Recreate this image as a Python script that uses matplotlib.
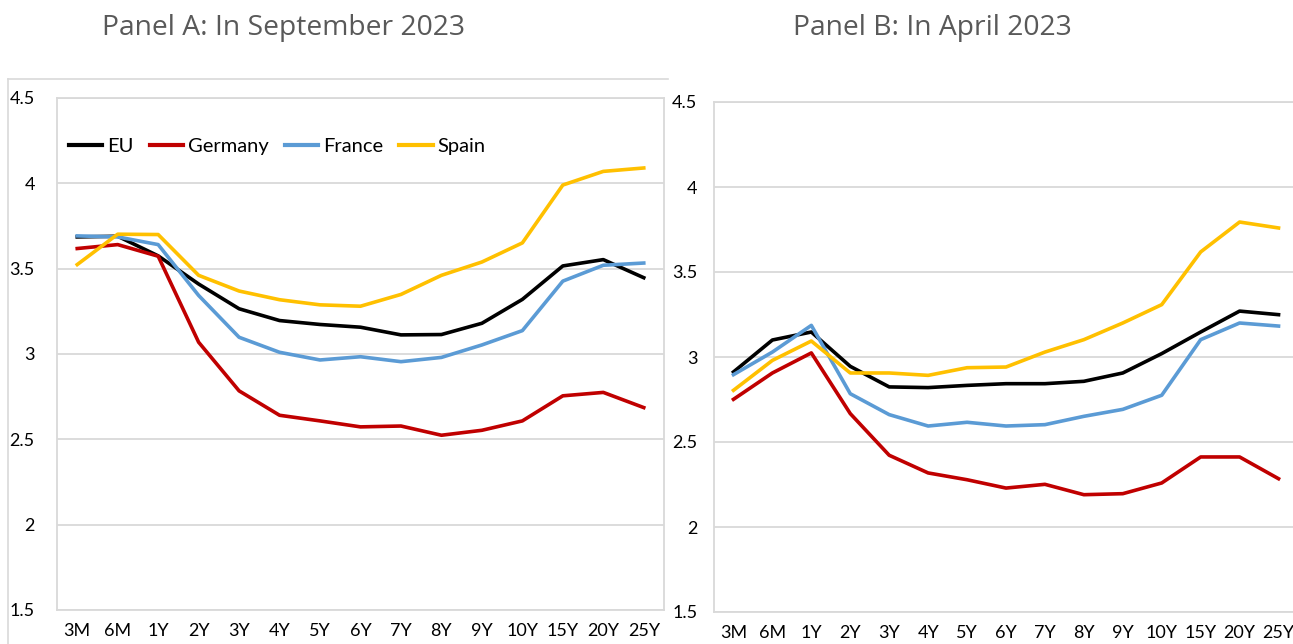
import matplotlib
matplotlib.use("Agg")
import matplotlib.pyplot as plt
from matplotlib.lines import Line2D

tenors = ["3M", "6M", "1Y", "2Y", "3Y", "4Y", "5Y", "6Y", "7Y", "8Y", "9Y", "10Y", "15Y", "20Y", "25Y"]

# Panel A: September 2023
eu_sep = [3.686, 3.69, 3.575, 3.41, 3.265, 3.196, 3.173, 3.157, 3.112, 3.114, 3.18, 3.32, 3.516, 3.553, 3.447]
de_sep = [3.618, 3.641, 3.573, 3.069, 2.784, 2.641, 2.608, 2.573, 2.578, 2.524, 2.553, 2.608, 2.755, 2.775, 2.686]
fr_sep = [3.692, 3.686, 3.641, 3.343, 3.098, 3.01, 2.965, 2.984, 2.955, 2.98, 3.053, 3.137, 3.427, 3.52, 3.533]
es_sep = [3.524, 3.702, 3.70, 3.461, 3.369, 3.318, 3.288, 3.28, 3.349, 3.461, 3.539, 3.651, 3.99, 4.07, 4.09]

# Panel B: April 2023
eu_apr = [2.912, 3.10, 3.147, 2.945, 2.824, 2.82, 2.833, 2.843, 2.843, 2.857, 2.906, 3.02, 3.147, 3.27, 3.249]
de_apr = [2.751, 2.906, 3.024, 2.667, 2.422, 2.318, 2.278, 2.229, 2.251, 2.19, 2.196, 2.259, 2.412, 2.412, 2.284]
fr_apr = [2.896, 3.029, 3.186, 2.784, 2.661, 2.594, 2.616, 2.594, 2.602, 2.651, 2.692, 2.775, 3.102, 3.20, 3.182]
es_apr = [2.804, 2.98, 3.094, 2.906, 2.906, 2.892, 2.937, 2.941, 3.029, 3.102, 3.20, 3.308, 3.618, 3.794, 3.759]

series_names = ["EU", "Germany", "France", "Spain"]
colors = ["#000000", "#C00000", "#5B9BD5", "#FFC000"]
yticks = [1.5, 2, 2.5, 3, 3.5, 4, 4.5]
ytick_labels = ["1.5", "2", "2.5", "3", "3.5", "4", "4.5"]
titles = ["Panel A: In September 2023", "Panel B: In April 2023"]

W, H = 1293, 644
fig = plt.figure(figsize=(W / 100, H / 100), dpi=100)
tick_font = ["Lato", "DejaVu Sans"]
title_font = ["Open Sans", "DejaVu Sans"]

def px_axes(l, t, r, b):
    return fig.add_axes([l / W, 1 - b / H, (r - l) / W, (b - t) / H])

ax1 = px_axes(57, 98, 664, 610)
ax2 = px_axes(714, 102, 1298, 612)

grid_c = "#D9D9D9"
for ax, data, ypad in [(ax1, [eu_sep, de_sep, fr_sep, es_sep], 16),
                       (ax2, [eu_apr, de_apr, fr_apr, es_apr], 12)]:
    x = list(range(len(tenors)))
    for vals, name, c in zip(data, series_names, colors):
        ax.plot(x, vals, color=c, lw=2.6, label=name, solid_joinstyle="round")
    ax.set_xlim(-0.5, len(tenors) - 0.5)
    ax.set_ylim(1.5, 4.5)
    ax.set_yticks(yticks)
    ax.set_yticklabels(ytick_labels, family=tick_font, fontsize=13)
    ax.set_xticks(x)
    ax.set_xticklabels(tenors, family=tick_font, fontsize=13)
    ax.tick_params(axis="both", length=0)
    ax.tick_params(axis="y", pad=ypad)
    ax.tick_params(axis="x", pad=9)
    ax.grid(axis="y", color=grid_c, lw=1.3)
    ax.set_axisbelow(True)
    for s in ax.spines.values():
        s.set_color(grid_c)
        s.set_linewidth(1.3)

leg = ax1.legend(loc="upper left", bbox_to_anchor=(0.0, 0.945), ncol=4, frameon=False,
                 prop={"family": tick_font, "size": 14.5}, handlelength=1.65,
                 handletextpad=0.25, columnspacing=0.8, borderaxespad=0.2)
for l in leg.get_lines():
    l.set_linewidth(3)

fig.text(283 / W, 1 - 28 / H, titles[0], ha="center", va="center", fontsize=20.3,
         color="#595959", family=title_font)
fig.text(932 / W, 1 - 28 / H, titles[1], ha="center", va="center", fontsize=20.3,
         color="#595959", family=title_font)

# outer chart-area frame of panel A
fig.add_artist(Line2D([8 / W, 668 / W], [1 - 79 / H, 1 - 79 / H], color=grid_c, lw=1.2,
                      transform=fig.transFigure))
fig.add_artist(Line2D([8 / W, 8 / W], [1 - 79 / H, 0], color=grid_c, lw=1.2,
                      transform=fig.transFigure))

fig.savefig("out.png", dpi=100)
